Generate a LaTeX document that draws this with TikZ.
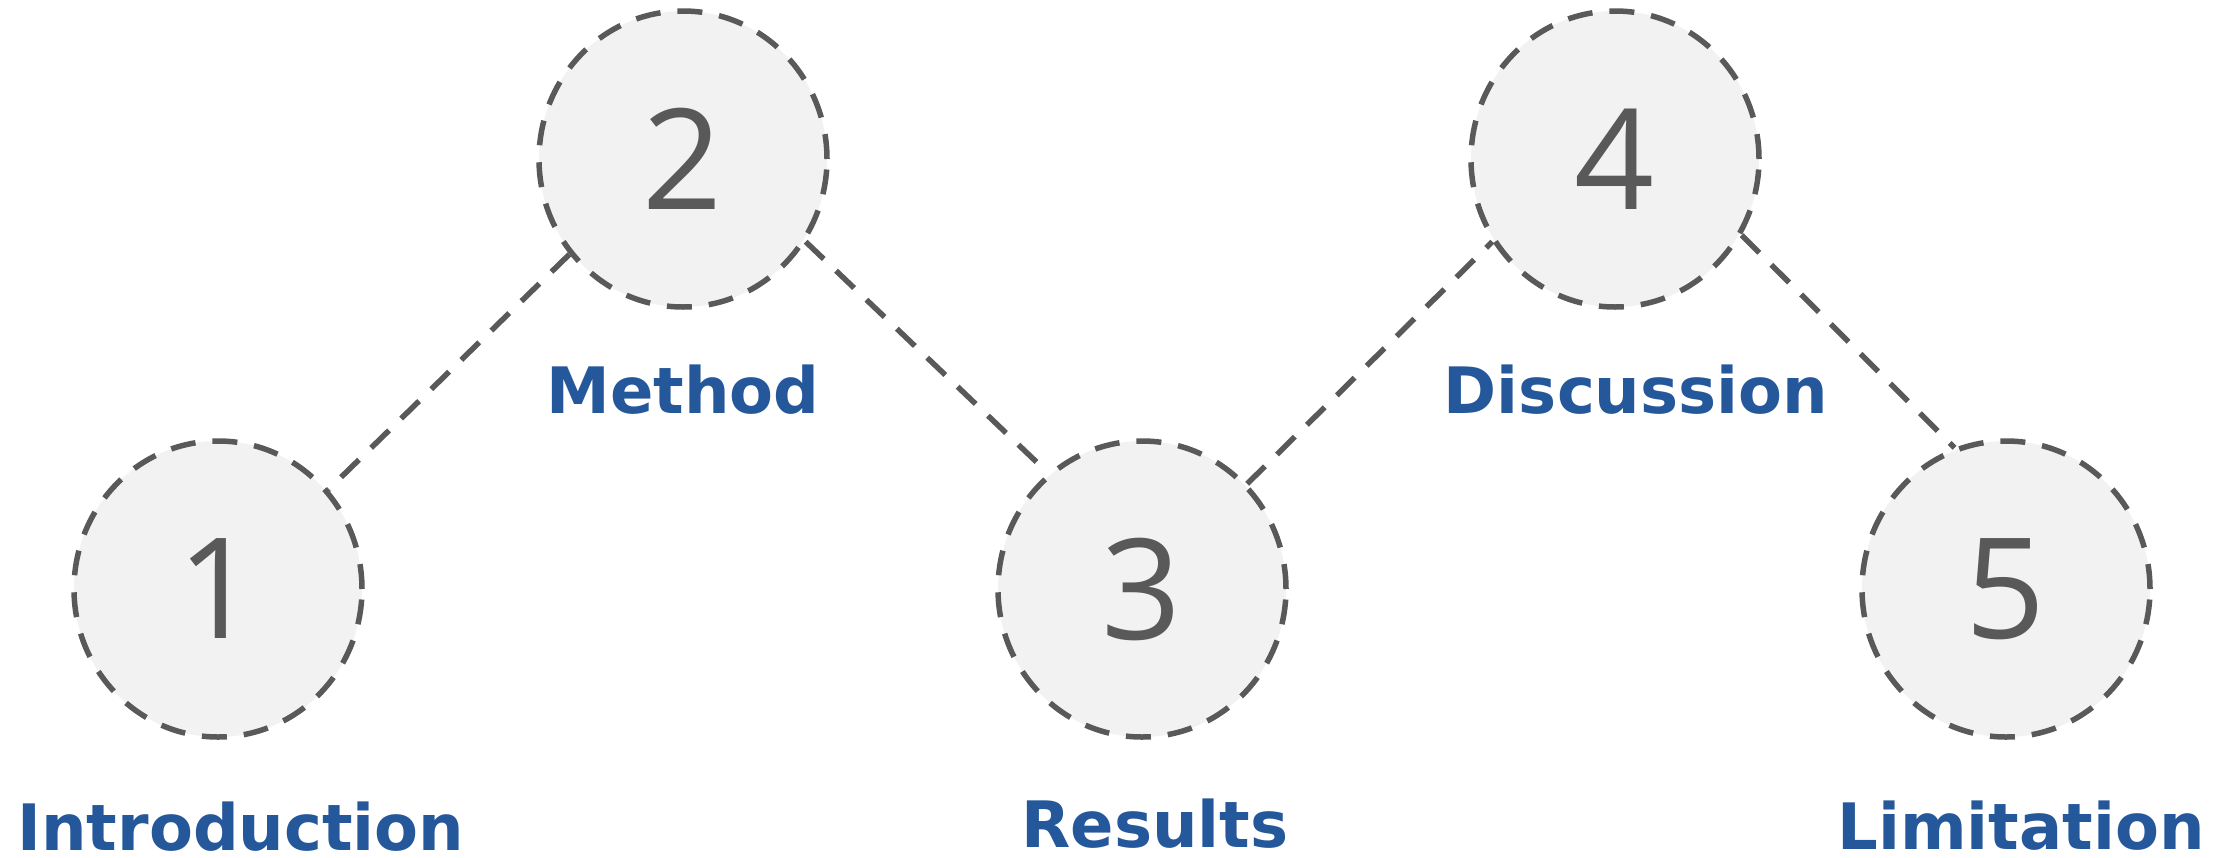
\documentclass[tikz,border=0pt]{standalone}
\usepackage{fontspec}
\usetikzlibrary{shapes.geometric}
\newfontfamily\numfont{Open Sans}
\newfontfamily\labfont{DejaVu Sans}
\definecolor{ringgray}{HTML}{595959}
\definecolor{ringfill}{HTML}{F2F2F2}
\definecolor{labblue}{RGB}{37,87,155}
\begin{document}
\begin{tikzpicture}[x=1pt,y=-1pt,
  stage/.style={ellipse, minimum width=288pt, minimum height=296pt, inner sep=0pt,
    fill=ringfill, draw=ringgray, line width=5.5pt, dash pattern=on 25pt off 17pt,
    text=ringgray, font=\numfont\fontsize{140}{140}\selectfont},
  lab/.style={anchor=base, text=labblue, inner sep=0pt,
    font=\labfont\bfseries\fontsize{64}{64}\selectfont},
  conn/.style={draw=ringgray, line width=5.5pt, dash pattern=on 25pt off 17pt}]
\useasboundingbox (0,0) rectangle (2228,857);
\node[stage] (n1) at (218,589) {1};
\node[stage] (n2) at (683,159) {2};
\node[stage] (n3) at (1142,589) {3};
\node[stage] (n4) at (1615,159) {4};
\node[stage] (n5) at (2006,589) {5};
\draw[conn] (n2.220) -- (n1.42);
\draw[conn] (n2.326) -- (n3.129);
\draw[conn] (n3.45) -- (n4.214);
\draw[conn] (n4.329) -- (n5.110);
\node[lab] (l1) at (241,850) {Introduction};
\node[lab] (l2) at (683,413) {Method};
\node[lab] (l3) at (1155,847) {Results};
\node[lab] (l4) at (1636,413) {Discussion};
\node[lab] (l5) at (2021,849) {Limitation};
\end{tikzpicture}
\end{document}
